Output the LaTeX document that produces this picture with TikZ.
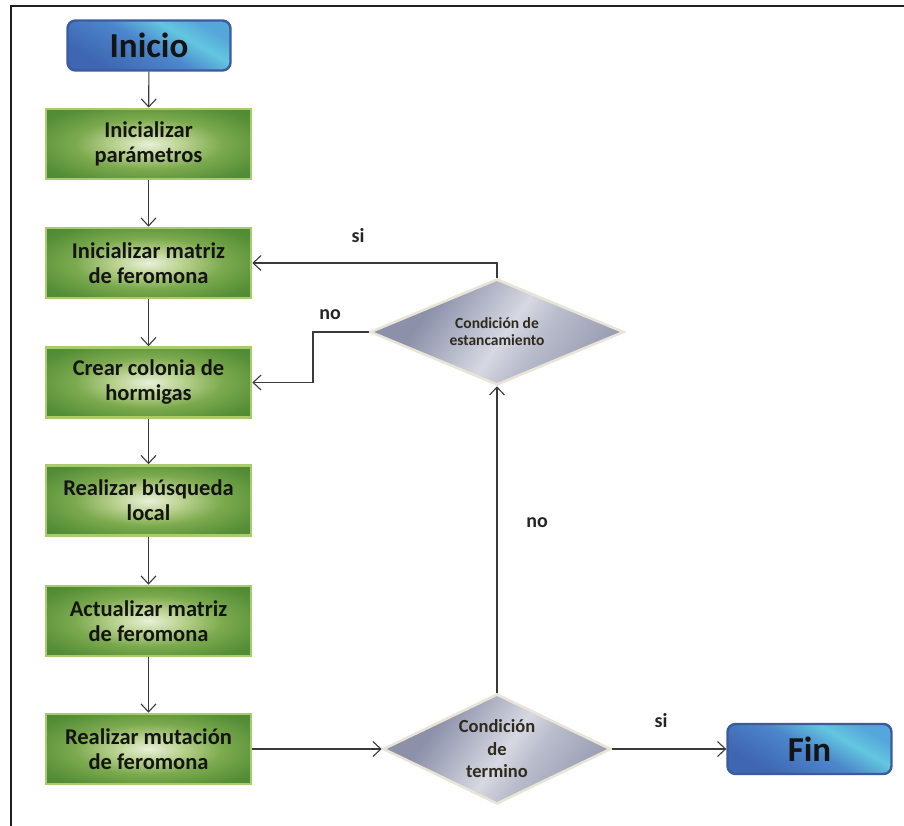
\documentclass[tikz,border=0pt]{standalone}
\usepackage{fontspec}
\setmainfont{Carlito}
\usetikzlibrary{shapes.geometric,arrows.meta}

\definecolor{frameC}{HTML}{231F20}
\definecolor{lineC}{HTML}{3A3A3A}
\definecolor{greenEdge}{HTML}{A9CB6E}
\definecolor{blueEdge}{HTML}{3B5C9C}
\definecolor{diaEdge}{HTML}{E8E5D6}
\definecolor{inkC}{HTML}{141414}
\definecolor{diaInk}{HTML}{2E2A1E}

\definecolor{gA}{HTML}{E8F0DA}
\definecolor{gB}{HTML}{BCD392}
\definecolor{gC}{HTML}{7CAA4E}
\definecolor{gD}{HTML}{548E37}
\definecolor{gE}{HTML}{417E2E}
\definecolor{gF}{HTML}{316826}

\definecolor{bA}{HTML}{3F66B2}
\definecolor{bB}{HTML}{4C86CC}
\definecolor{bC}{HTML}{63C6E0}
\definecolor{bD}{HTML}{55A6DA}

\definecolor{sA}{HTML}{8C90A9}
\definecolor{sB}{HTML}{D6D8E2}
\definecolor{sC}{HTML}{B9BCCB}
\definecolor{sD}{HTML}{9A9EB4}

% soft green glow, light in the middle, dark at the rim
\pgfdeclareradialshading{greenglow}{\pgfpoint{0bp}{0bp}}{%
  color(0bp)=(gA); color(8bp)=(gB); color(18bp)=(gC);
  color(30bp)=(gD); color(46bp)=(gE); color(71bp)=(gF)}

% blue terminal boxes, dark lower left, cyan highlight towards the right
\pgfdeclarehorizontalshading{bluesheen}{100bp}{%
  color(0bp)=(bA); color(28bp)=(bA); color(50bp)=(bB);
  color(64bp)=(bC); color(75bp)=(bD); color(100bp)=(bD)}

% steel-grey decision diamonds with a light diagonal band
\pgfdeclarehorizontalshading{steelband}{100bp}{%
  color(0bp)=(sA); color(32bp)=(sA); color(52bp)=(sB);
  color(60bp)=(sC); color(75bp)=(sD); color(100bp)=(sD)}

\tikzset{
  frame/.style={draw=frameC, line width=2.6pt},
  procbox/.style={rectangle, draw=greenEdge, line width=2.6pt,
    shading=greenglow, minimum width=205pt, minimum height=70pt,
    align=center, font=\bfseries\fontsize{22.5}{25}\selectfont, text=inkC},
  termbox/.style={rectangle, rounded corners=8pt, draw=blueEdge, line width=2.4pt,
    shading=bluesheen, shading angle=60, minimum width=163pt, minimum height=50pt,
    font=\bfseries\fontsize{35}{40}\selectfont, text=inkC},
  decision/.style={diamond, draw=diaEdge, line width=2.6pt, inner sep=0pt,
    shading=steelband, shading angle=-35, align=center, text=diaInk},
  arr/.style={draw=lineC, line width=1.1pt,
    -{Straight Barb[length=8pt,width=15pt,line width=1.1pt]}},
  lbl/.style={font=\bfseries\fontsize{20}{22}\selectfont, text=black!85}
}

\begin{document}
\begin{tikzpicture}[x=1pt,y=-1pt]
\useasboundingbox (0,0) rectangle (904,826);

% page frame (top and left edges)
\draw[frame] (904,6) -- (11,6) -- (11,826);

% terminals
\node[termbox] (inicio) at (149,45.5) {Inicio};
\node[termbox, minimum width=164pt] (fin) at (809.5,749) {Fin};

% process steps
\node[procbox] (b1) at (148.5,144) {Inicializar\\parámetros};
\node[procbox] (b2) at (148.5,263) {Inicializar matriz\\de feromona};
\node[procbox] (b3) at (148.5,382.5) {Crear colonia de\\hormigas};
\node[procbox] (b4) at (148.5,500.5) {Realizar búsqueda\\local};
\node[procbox] (b5) at (148.5,621) {Actualizar matriz\\de feromona};
\node[procbox] (b6) at (148.5,749) {Realizar mutación\\de feromona};

% decisions
\node[decision, shape aspect=2.4, minimum width=254pt, minimum height=106pt,
  font=\bfseries\fontsize{15.5}{17}\selectfont] (d1) at (497,332)
  {Condición de\\estancamiento};
\node[decision, shape aspect=2.07, minimum width=228pt, minimum height=110pt,
  font=\bfseries\fontsize{18.5}{22.5}\selectfont] (d2) at (497,749)
  {Condición\\de\\termino};

% main flow
\draw[arr] (inicio) -- (b1);
\draw[arr] (b1) -- (b2);
\draw[arr] (b2) -- (b3);
\draw[arr] (b3) -- (b4);
\draw[arr] (b4) -- (b5);
\draw[arr] (b5) -- (b6);
\draw[arr] (b6) -- (d2);
\draw[arr] (d2) -- (fin);
\draw[arr] (d2) -- (d1);

% feedback loops
\draw[arr] (d1.north) |- (b2.east);
\coordinate (nobend) at (313,332);
\draw[arr] (d1.west) -- (nobend) |- (b3.east);

% branch labels
\node[lbl] (si1) at (358,236) {si};
\node[lbl] (no1) at (330,315) {no};
\node[lbl] (no2) at (537,523) {no};
\node[lbl] (si2) at (661,721) {si};
\end{tikzpicture}
\end{document}
